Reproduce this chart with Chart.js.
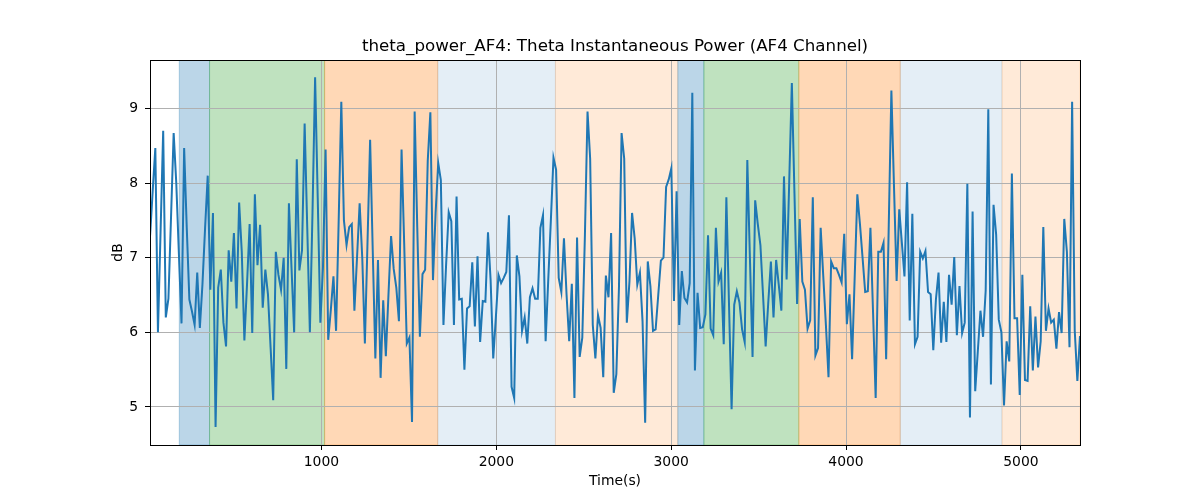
<!DOCTYPE html>
<html>
<head>
<meta charset="utf-8">
<script src="https://cdn.jsdelivr.net/npm/chart.js@4.4.0/dist/chart.umd.min.js"></script>
<style>
  html, body { margin: 0; padding: 0; background: #fff; }
</style>
</head>
<body>
<canvas id="thetaChart" width="1200" height="500"></canvas>
<script>
// sampling grid of the recording (seconds)
const T0 = 20
const DT = 14.98

// theta power, dB, one value per sample
const thetaPower = [
  7.3, 7.9, 8.47, 6.0, 7.35, 8.7, 6.2, 6.45, 7.55, 8.67,
  8.0, 7.05, 6.12, 8.47, 7.4, 6.44, 6.28, 6.1, 6.8, 6.06,
  6.65, 7.4, 8.1, 6.57, 7.6, 4.73, 6.6, 6.84, 6.13, 5.81,
  7.1, 6.68, 7.33, 6.32, 7.74, 7.08, 5.89, 6.64, 7.45, 5.99,
  7.85, 6.9, 7.44, 6.33, 6.84, 6.51, 5.8, 5.09, 7.08, 6.77,
  6.57, 7.0, 5.51, 7.73, 6.86, 6.0, 8.32, 6.83, 7.1, 8.8,
  7.4, 6.0, 7.6, 9.42, 7.8, 6.13, 6.87, 8.45, 5.9, 6.3,
  6.75, 6.02, 7.5, 9.09, 7.5, 7.17, 7.41, 7.45, 6.29, 7.0,
  7.73, 7.0, 5.85, 7.2, 8.58, 7.1, 5.65, 6.97, 5.39, 6.43,
  5.68, 6.5, 7.29, 6.85, 6.6, 6.15, 8.45, 7.2, 5.85, 5.93,
  4.8, 8.96, 7.4, 5.94, 6.78, 6.84, 8.3, 8.95, 6.7, 7.6,
  8.27, 8.04, 6.1, 6.9, 7.61, 7.49, 6.1, 7.82, 6.44, 6.45,
  5.5, 6.32, 6.35, 6.94, 6.08, 7.02, 5.87, 6.42, 6.41, 7.34,
  6.7, 5.65, 6.2, 6.77, 6.66, 6.73, 6.81, 7.57, 5.27, 5.12,
  7.03, 6.75, 6.02, 6.2, 5.85, 6.47, 6.59, 6.45, 6.45, 7.4,
  7.57, 5.88, 6.7, 7.5, 8.34, 8.18, 6.73, 6.54, 7.26, 6.5,
  5.88, 6.65, 5.12, 7.27, 5.67, 5.93, 7.3, 8.96, 8.33, 6.1,
  5.65, 6.23, 6.06, 5.4, 6.76, 6.47, 7.33, 5.19, 5.44, 6.6,
  8.67, 8.33, 6.13, 6.68, 7.6, 7.26, 6.64, 6.8, 6.15, 4.79,
  6.95, 6.62, 6.02, 6.04, 6.5, 6.96, 7.0, 7.95, 8.05, 8.2,
  6.42, 7.89, 6.1, 6.82, 6.46, 6.4, 6.66, 9.21, 5.49, 6.53,
  6.06, 6.07, 6.24, 7.3, 6.05, 5.96, 7.4, 6.68, 6.8, 5.84,
  7.81, 6.39, 4.97, 6.37, 6.55, 6.4, 6.04, 5.87, 8.31, 6.99,
  5.67, 7.77, 7.45, 7.17, 6.5, 5.81, 6.4, 6.95, 6.2, 6.97,
  6.64, 6.29, 8.09, 6.71, 8.02, 9.34, 7.86, 6.38, 7.52, 6.68,
  6.57, 6.05, 6.16, 7.81, 5.69, 5.79, 7.4, 6.75, 6.1, 5.4,
  6.95, 6.86, 6.86, 6.77, 6.67, 7.32, 6.11, 6.51, 5.64, 6.75,
  7.85, 7.45, 7.0, 6.54, 6.55, 7.4, 6.27, 5.12, 7.08, 7.08,
  7.2, 5.64, 7.44, 9.24, 7.95, 6.69, 7.65, 7.2, 6.75, 8.01,
  6.16, 7.59, 5.84, 5.94, 7.08, 6.99, 7.09, 6.54, 6.51, 5.76,
  6.44, 6.8, 5.86, 6.41, 5.87, 6.77, 6.37, 7.01, 5.96, 6.62,
  5.99, 6.13, 7.99, 4.86, 7.62, 5.21, 5.75, 6.29, 5.94, 6.56,
  8.99, 5.3, 7.71, 7.31, 6.17, 6.0, 5.02, 5.88, 5.61, 8.13,
  6.19, 6.19, 5.16, 6.77, 5.36, 5.35, 6.35, 5.49, 6.21, 5.53,
  5.88, 7.41, 6.02, 6.32, 6.13, 6.17, 5.78, 6.27, 5.99, 7.52,
  7.08, 5.8, 9.09, 6.02, 5.35, 5.95
]

// shaded segments (seconds)
const bandStart = [187, 360, 1018, 1665, 2338, 3038, 3187, 3730, 4310, 4892]
const bandEnd   = [360, 1018, 1665, 2338, 3038, 3187, 3730, 4310, 4892, 5338]

const xTicks = [1000, 2000, 3000, 4000, 5000]
const yTicks = [5, 6, 7, 8, 9]

// styles
const lineColor = '#1f77b4'
const bandColors = [
  'rgba(31,119,180,0.3)', 'rgba(44,160,44,0.3)', 'rgba(255,127,14,0.3)',
  'rgba(31,119,180,0.12)', 'rgba(255,127,14,0.16)',
  'rgba(31,119,180,0.3)', 'rgba(44,160,44,0.3)', 'rgba(255,127,14,0.3)',
  'rgba(31,119,180,0.12)', 'rgba(255,127,14,0.16)'
]
const fontFamily = "'DejaVu Sans', sans-serif"

let points = thetaPower.map(function(v, i) {
    return { x: T0 + i * DT, y: v }
})

// spans go under the grid, like matplotlib's axvspan
const bands = {
    id: 'bands',
    beforeDraw(chart) {
        const {ctx, chartArea: {left, right, top, bottom}, scales: {x}} = chart
        ctx.save()
        ctx.beginPath()
        ctx.rect(left, top, right - left, bottom - top)
        ctx.clip()
        for (let i = 0; i < bandStart.length; i++) {
            let x1 = x.getPixelForValue(bandStart[i])
            let x2 = x.getPixelForValue(bandEnd[i])
            ctx.fillStyle = bandColors[i]
            ctx.fillRect(x1, top, x2 - x1, bottom - top)
            ctx.strokeStyle = bandColors[i]
            ctx.lineWidth = 1
            ctx.strokeRect(x1, top, x2 - x1, bottom - top)
        }
        ctx.restore()
    }
}

const frameAndText = {
    id: 'frameAndText',
    afterDraw(chart) {
        const {ctx, chartArea: {left, right, top, bottom}} = chart
        ctx.save()
        ctx.strokeStyle = '#000'
        ctx.lineWidth = 1
        ctx.strokeRect(left + 0.5, top + 0.5, right - left, bottom - top)

        ctx.fillStyle = '#000'
        ctx.textAlign = 'center'
        ctx.font = '16.7px ' + fontFamily
        ctx.textBaseline = 'alphabetic'
        ctx.fillText('theta_power_AF4: Theta Instantaneous Power (AF4 Channel)', (left + right) / 2, 51)

        ctx.font = '13.9px ' + fontFamily
        ctx.textBaseline = 'middle'
        ctx.fillText('Time(s)', (left + right) / 2, 481)

        ctx.translate(118, (top + bottom) / 2)
        ctx.rotate(-Math.PI / 2)
        ctx.fillText('dB', 0, 0)
        ctx.restore()
    }
}

let ctx = document.getElementById('thetaChart').getContext('2d')

new Chart(ctx, {
    type: 'line',
    data: {
        datasets: [{
            data: points,
            borderColor: lineColor,
            borderWidth: 2,
            pointRadius: 0,
            tension: 0,
            fill: false
        }]
    },
    plugins: [bands, frameAndText],
    options: {
        responsive: false,
        animation: false,
        devicePixelRatio: 1,
        layout: { padding: { left: 0, right: 120, top: 60, bottom: 0 } },
        plugins: {
            legend: { display: false },
            tooltip: { enabled: false },
            title: { display: false }
        },
        scales: {
            x: {
                type: 'linear',
                min: 19.5,
                max: 5338,
                afterFit: (s) => { s.height = 55 },
                afterBuildTicks: (s) => { s.ticks = xTicks.map(v => ({ value: v })) },
                border: { display: false },
                grid: { color: '#b0b0b0', lineWidth: 1, tickColor: '#000', tickLength: 5 },
                ticks: {
                    color: '#000',
                    padding: 4,
                    maxRotation: 0,
                    font: { family: fontFamily, size: 13.9 },
                    callback: (v) => String(v)
                }
            },
            y: {
                min: 4.49,
                max: 9.65,
                afterFit: (s) => { s.width = 150 },
                afterBuildTicks: (s) => { s.ticks = yTicks.map(v => ({ value: v })) },
                border: { display: false },
                grid: { color: '#b0b0b0', lineWidth: 1, tickColor: '#000', tickLength: 5 },
                ticks: {
                    color: '#000',
                    padding: 7,
                    font: { family: fontFamily, size: 13.9 },
                    callback: (v) => String(v)
                }
            }
        }
    }
})
</script>
</body>
</html>
